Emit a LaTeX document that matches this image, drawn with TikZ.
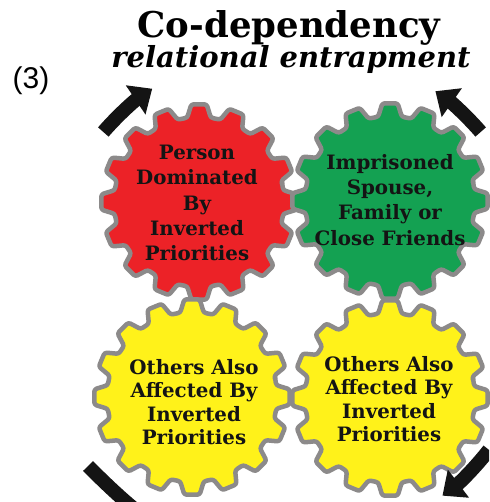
\documentclass[tikz,border=0pt]{standalone}
\usepackage{fontspec}
\setmainfont{DejaVu Serif}
\newfontfamily\numfont{Liberation Sans}
\usetikzlibrary{arrows.meta}
\definecolor{gearred}{HTML}{EC2227}
\definecolor{geargreen}{HTML}{14A152}
\definecolor{gearyellow}{HTML}{FFF21A}
\definecolor{gearrim}{HTML}{8C8A8A}
\tikzstyle{gearbody} = [draw=gearrim, line width=4.5pt, rounded corners=2.5pt, line join=round]
\tikzstyle{geartext} = [align=center, inner sep=0pt, text=black!92, font=\bfseries\fontsize{19.8}{25.2}\selectfont]
\tikzstyle{turnarrow} = [line width=14pt, black!92, -{Triangle[length=20pt,width=34pt]}]

\begin{document}
\begin{tikzpicture}[x=1pt, y=-1pt]
	\useasboundingbox[fill=white] (0,0) rectangle (489,502);
	% the four gears
	\foreach \px/\py/\col in {199/202/gearred, 390/201/geargreen, 192/397/gearyellow, 390/398/gearyellow}{
		\begin{scope}[shift={(\px,\py)}]
			\filldraw[gearbody, fill=\col] (-11.25:85)
				\foreach \a in {0,22.5,...,337.5}{ -- (\a-8:85) -- (\a-4.5:98) -- (\a+4.5:98) -- (\a+8:85) -- (\a+11.25:85)} -- cycle;
		\end{scope}
	}
	\node[geartext] (person) at (197,203) {Person\\Dominated\\By\\Inverted\\Priorities};
	\node[geartext] (spouse) at (390,200) {Imprisoned\\Spouse,\\Family or\\Close Friends};
	\node[geartext, font=\bfseries\fontsize{19.8}{23.4}\selectfont] (othersleft) at (194,402) {Others Also\\Affected By\\Inverted\\Priorities};
	\node[geartext, font=\bfseries\fontsize{19.8}{23.4}\selectfont] (othersright) at (389,399) {Others Also\\Affected By\\Inverted\\Priorities};
	% title
	\node[anchor=base, inner sep=0pt, font=\bfseries\fontsize{35.5}{35.5}\selectfont] (title) at (289,38) {Co-dependency};
	\node[anchor=base, inner sep=0pt, font=\bfseries\itshape\fontsize{29}{29}\selectfont] (subtitle) at (291,68) {relational entrapment};
	\node[inner sep=0pt, font=\numfont\fontsize{30}{30}\selectfont] (number) at (31,81) {(3)};
	% turning arrows
	\coordinate (hub) at (292,296);
	\begin{scope}
		\clip (0,0) rectangle (489,502);
		\draw[turnarrow] (hub) ++(221:250) arc[start angle=221, end angle=236, radius=250];
		\draw[turnarrow] (hub) ++(319:250) arc[start angle=319, end angle=305, radius=250];
		\draw[turnarrow] (hub) ++(38:250) arc[start angle=38, end angle=53, radius=250];
		\draw[turnarrow] (88,466) to[bend right=6] (185,545);
	\end{scope}
\end{tikzpicture}
\end{document}
